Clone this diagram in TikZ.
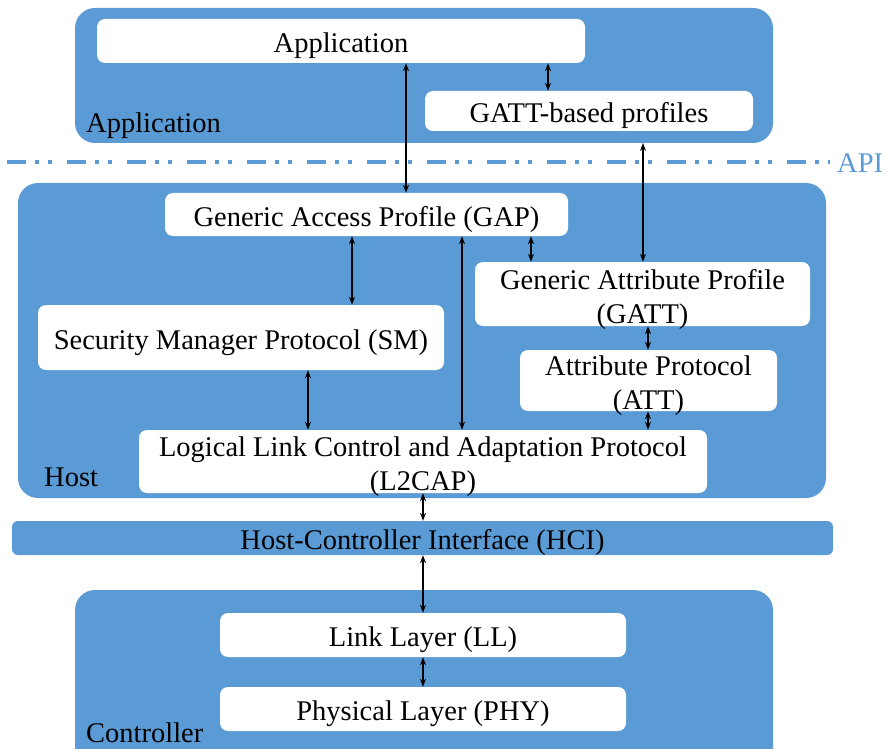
\documentclass[tikz,border=0pt]{standalone}
\usepackage{fontspec}
\setmainfont{Liberation Serif}
\usetikzlibrary{arrows.meta}
\definecolor{layerblue}{HTML}{5B9BD5}
\begin{document}
\begin{tikzpicture}[x=1pt,y=-1pt,
  layer/.style={fill=layerblue,draw=none,rounded corners=20pt},
  wbox/.style={fill=white,draw=none,rounded corners=8pt,inner sep=0pt,
    align=center,font=\fontsize{28.5}{34}\selectfont,
    text height=23.5pt,text depth=0pt},
  twoline/.style={text height=58pt},
  lbl/.style={anchor=base west,inner sep=0pt,font=\fontsize{28.5}{34}\selectfont},
  dbl/.style={{Stealth[length=8pt,width=6pt]}-{Stealth[length=8pt,width=6pt]},line width=1.1pt}]
\useasboundingbox (0,0) rectangle (887,749);

% layer backgrounds
\fill[layer] (75,8) rectangle (773,143);
\fill[layer] (18,183) rectangle (826,498);
\fill[layerblue,rounded corners=6pt] (12,521) rectangle (833,555);
\fill[layer] (75,590) rectangle (773,790);

% API boundary
\draw[layerblue,line width=3.5pt,
  dash pattern=on 19pt off 9pt on 4pt off 9pt on 4pt off 15pt] (7,162) -- (830,162);
\node[lbl,anchor=west,text=layerblue] (api) at (837,163) {API};

% layer labels
\node[lbl] (applbl) at (86,133) {Application};
\node[lbl] (hostlbl) at (44,486) {Host};
\node[lbl] (ctrllbl) at (86,742) {Controller};

% application layer
\node[wbox,minimum width=488pt,minimum height=44pt] (app) at (341,41) {Application};
\node[wbox,minimum width=328pt,minimum height=40pt] (gattp) at (589,111) {GATT-based profiles};
\coordinate (appedge) at (643,143);

% host layer
\node[wbox,minimum width=403pt,minimum height=43pt] (gap) at (366.5,214.5) {Generic Access Profile (GAP)};
\node[wbox,twoline,minimum width=335pt,minimum height=64pt] (gatt) at (642.5,294) {Generic Attribute Profile\\(GATT)};
\node[wbox,minimum width=406pt,minimum height=65pt] (sm) at (241,337.5) {Security Manager Protocol (SM)};
\node[wbox,twoline,minimum width=257pt,minimum height=61pt] (att) at (648.5,380.5) {Attribute Protocol\\(ATT)};
\node[wbox,twoline,minimum width=568pt,minimum height=63pt] (l2cap) at (423,461.5) {Logical Link Control and Adaptation Protocol\\(L2CAP)};

% host-controller interface
\node[wbox,fill=none,minimum width=821pt,minimum height=34pt] (hci) at (422.5,538) {Host-Controller Interface (HCI)};

% controller layer
\node[wbox,minimum width=406pt,minimum height=44pt] (ll) at (423,635) {Link Layer (LL)};
\node[wbox,minimum width=406pt,minimum height=44pt] (phy) at (423,709) {Physical Layer (PHY)};

% connector columns
\coordinate (c1) at (406,0);
\coordinate (c2) at (548,0);
\coordinate (c3) at (643,0);
\coordinate (c4) at (352,0);
\coordinate (c5) at (531,0);
\coordinate (c6) at (462,0);
\coordinate (c7) at (648,0);
\coordinate (c8) at (308,0);
\coordinate (c9) at (423,0);

\draw[dbl] (app.south -| c1) -- (gap.north -| c1);
\draw[dbl] (app.south -| c2) -- (gattp.north -| c2);
\draw[dbl] (appedge) -- (gatt.north -| c3);
\draw[dbl] (gap.south -| c4) -- (sm.north -| c4);
\draw[dbl] (gap.south -| c5) -- (gatt.north -| c5);
\draw[dbl] (gap.south -| c6) -- (l2cap.north -| c6);
\draw[dbl] (gatt.south -| c7) -- (att.north -| c7);
\draw[dbl] (att.south -| c7) -- (l2cap.north -| c7);
\draw[dbl] (sm.south -| c8) -- (l2cap.north -| c8);
\draw[dbl] (l2cap.south -| c9) -- (hci.north -| c9);
\draw[dbl] (hci.south -| c9) -- (ll.north -| c9);
\draw[dbl] (ll.south -| c9) -- (phy.north -| c9);
\end{tikzpicture}
\end{document}
